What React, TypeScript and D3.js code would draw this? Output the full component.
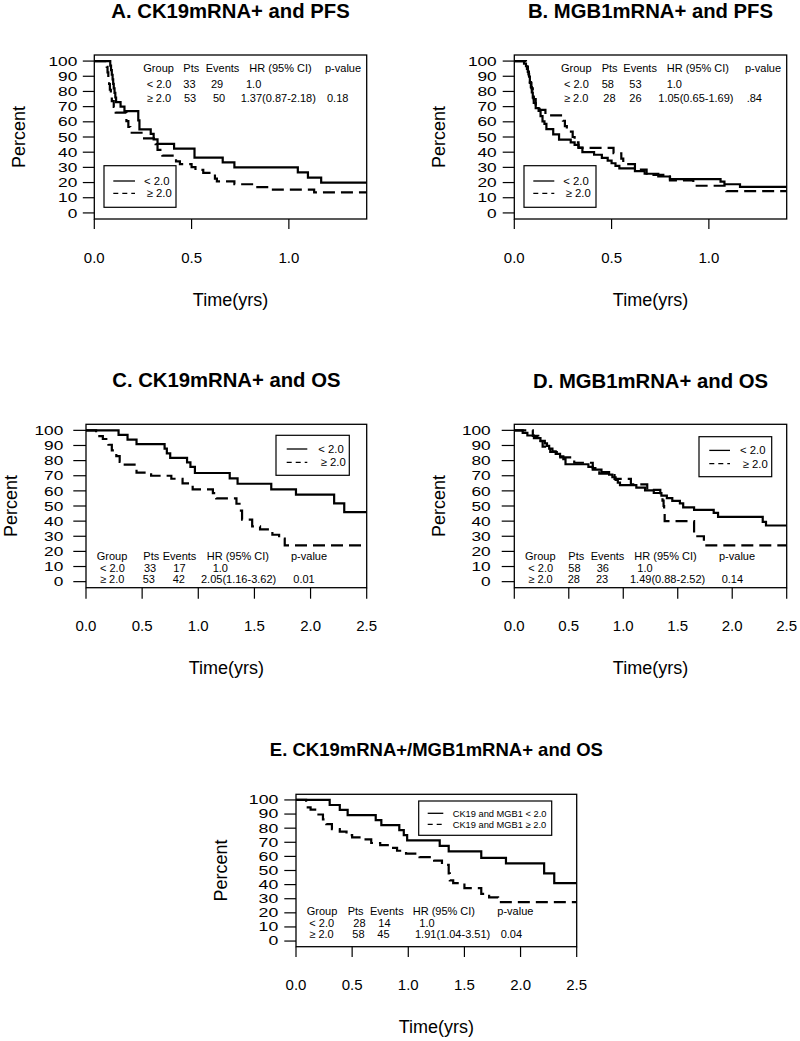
import React from "react";
import * as d3 from "d3";

type Pt = [number, number];

// ---------- tick values / labels ----------
const yTickValues = [0, 10, 20, 30, 40, 50, 60, 70, 80, 90, 100];
const pfsTimeTicks = [0, 0.5, 1.0];
const osTimeTicks = [0, 0.5, 1.0, 1.5, 2.0, 2.5];
const groupLegend = ["< 2.0", "≥ 2.0"];
const comboLegend = ["CK19 and MGB1 < 2.0", "CK19 and MGB1 ≥ 2.0"];
const statsHeader = ["Group", "Pts", "Events", "HR (95% CI)", "p-value"];

// ---------- statistics tables ----------
const ck19PfsStats = [["< 2.0", "33", "29", "1.0", ""], ["≥ 2.0", "53", "50", "1.37(0.87-2.18)", "0.18"]];
const mgbPfsStats = [["< 2.0", "58", "53", "1.0", ""], ["≥ 2.0", "28", "26", "1.05(0.65-1.69)", ".84"]];
const ck19OsStats = [["< 2.0", "33", "17", "1.0", ""], ["≥ 2.0", "53", "42", "2.05(1.16-3.62)", "0.01"]];
const mgbOsStats = [["< 2.0", "58", "36", "1.0", ""], ["≥ 2.0", "28", "23", "1.49(0.88-2.52)", "0.14"]];
const bothOsStats = [["< 2.0", "28", "14", "1.0", ""], ["≥ 2.0", "58", "45", "1.91(1.04-3.51)", "0.04"]];

// ---------- survival curves: [time (yrs), percent] ----------
const ck19PfsLow: Pt[] = [[0,100],[0.082,97],[0.086,94],[0.09,91],[0.094,88],[0.097,85],[0.1,82],[0.104,79],[0.108,76],[0.112,73],[0.135,70],[0.155,67],[0.226,61],[0.232,55],[0.29,52],[0.305,48.5],[0.325,45.5],[0.41,42.4],[0.515,36.4],[0.66,33.3],[0.72,30],[1.046,26.7],[1.098,23.3],[1.166,20],[1.4,20]];
const ck19PfsHigh: Pt[] = [[0,100],[0.064,96.2],[0.068,92.5],[0.072,88.7],[0.076,84.9],[0.08,81.1],[0.085,77.4],[0.09,73.6],[0.1,69.8],[0.11,66],[0.165,60.4],[0.175,56.6],[0.185,52.8],[0.25,49.1],[0.315,45.3],[0.325,41.5],[0.35,37.7],[0.42,34],[0.44,32.1],[0.5,30.2],[0.52,28.3],[0.56,26.4],[0.62,22.6],[0.63,20.8],[0.72,18.9],[0.82,17],[0.9,15.4],[1.13,13.5],[1.4,13.5]];

const mgbPfsLow: Pt[] = [[0,100],[0.05,98.3],[0.06,96.6],[0.065,94.8],[0.07,93.1],[0.073,91.4],[0.076,89.7],[0.08,86.2],[0.085,82.8],[0.09,79.3],[0.095,75.9],[0.1,72.4],[0.11,69],[0.125,67.2],[0.135,63.8],[0.145,60.3],[0.155,58.6],[0.165,55.2],[0.2,51.7],[0.23,48.3],[0.29,46.5],[0.31,44.8],[0.33,43.1],[0.35,40],[0.41,38.3],[0.45,36.2],[0.48,34.4],[0.5,32.7],[0.52,31],[0.54,29.3],[0.62,27.5],[0.67,25.8],[0.74,24],[0.8,22.3],[1.06,20.6],[1.08,18.9],[1.16,17.2],[1.4,17.2]];
const mgbPfsHigh: Pt[] = [[0,100],[0.06,96.4],[0.07,92.9],[0.075,89.3],[0.08,85.7],[0.088,82.1],[0.095,78.6],[0.1,75],[0.11,71.4],[0.13,67.9],[0.16,64.3],[0.25,60.7],[0.26,57.1],[0.27,53.6],[0.3,50],[0.31,46.4],[0.33,42.9],[0.51,39.3],[0.55,35.7],[0.56,32.1],[0.62,28.6],[0.68,25],[0.8,21.4],[0.92,17.9],[1.09,14.3],[1.4,14.3]];

const ck19OsLow: Pt[] = [[0,100],[0.29,97],[0.37,93.9],[0.45,90.9],[0.7,87.9],[0.72,84.8],[0.75,81.8],[0.9,78.8],[0.93,75.8],[0.97,71.8],[1.28,68.3],[1.35,64.7],[1.65,61],[1.87,57.5],[2.21,51.7],[2.3,46],[2.5,46]];
const ck19OsHigh: Pt[] = [[0,100],[0.09,96.2],[0.15,94.3],[0.2,90.5],[0.23,86.7],[0.27,83],[0.3,79.2],[0.33,77.3],[0.45,72],[0.58,70],[0.76,68],[0.86,65],[0.95,61],[1.13,58.5],[1.16,55],[1.34,51.5],[1.38,47],[1.39,41],[1.48,36.5],[1.55,34.5],[1.66,31],[1.72,28.5],[1.77,24],[2.5,24]];

const mgbOsLow: Pt[] = [[0,100],[0.077,98.3],[0.12,96.6],[0.18,94.8],[0.24,93.1],[0.28,91.4],[0.3,89.7],[0.32,87.9],[0.35,86.2],[0.38,84.5],[0.42,82.8],[0.45,81],[0.47,77.6],[0.68,75.9],[0.72,74.1],[0.8,72.4],[0.87,70.7],[0.9,69],[0.93,67.2],[0.95,65.5],[0.97,63.8],[1.12,62.1],[1.2,60.3],[1.28,58.6],[1.35,56.9],[1.4,55.2],[1.45,53.4],[1.52,51.7],[1.55,49.1],[1.65,47.4],[1.83,45.5],[1.87,42.8],[2.28,39.5],[2.31,37.1],[2.5,37.1]];
const mgbOsHigh: Pt[] = [[0,100],[0.17,96.4],[0.22,92.9],[0.26,89.3],[0.33,85.7],[0.39,82.1],[0.55,78.6],[0.72,75],[0.78,71.4],[0.92,67.9],[1.07,64.3],[1.22,60.7],[1.34,57.1],[1.36,53.6],[1.37,50],[1.375,46.4],[1.38,40],[1.65,32],[1.68,30],[1.74,24],[2.5,24]];

const bothOsLow: Pt[] = [[0,100],[0.3,96.4],[0.39,92.9],[0.46,89.3],[0.71,85.7],[0.76,82.1],[0.92,78.6],[0.96,75],[0.99,71.4],[1.28,67.5],[1.36,63.5],[1.65,59],[1.87,55],[2.21,48],[2.3,41],[2.5,41]];
const bothOsHigh: Pt[] = [[0,100],[0.09,94.8],[0.13,93.1],[0.2,89.7],[0.24,86.2],[0.27,82.8],[0.32,79.3],[0.39,77.6],[0.45,75],[0.5,73.5],[0.6,72],[0.67,69.5],[0.75,68],[0.83,66],[0.9,64],[0.98,62],[1.1,59.5],[1.23,57],[1.3,54],[1.36,48],[1.37,43],[1.4,41],[1.5,37.5],[1.65,33.5],[1.72,31],[1.8,27.6],[2.5,27.6]];

// ---------- layout ----------
const FONT = "'Liberation Sans', Arial, Helvetica, sans-serif";

interface PanelCfg {
  title: string;
  titleSize: number;
  titleY: number;
  box: { l: number; r: number; t: number; b: number };
  xMax: number;
  xTicks: number[];
  low: Pt[];
  high: Pt[];
  stats: string[][];
  statRowsY: number[];
  statCols: number[][];
  yLabGap: number;
  yTickLen: number;
  yTickFont: number;
  yTickStretch: number;
  xTickLen: number;
  percentX: number;
  legend: { x: number; y: number; w: number; h: number; lx: [number, number]; ly: [number, number]; tx: [number, number]; size: number; labels: string[] };
}

const panels: PanelCfg[] = [
  {
    title: "A. CK19mRNA+ and PFS", titleSize: 20.3, titleY: 17.5,
    box: { l: 94.3, r: 366.7, t: 55, b: 219 }, xMax: 1.4, xTicks: pfsTimeTicks,
    low: ck19PfsLow, high: ck19PfsHigh, stats: ck19PfsStats,
    statRowsY: [71.7, 87.7, 102.3],
    statCols: [[49, 89, 111.4, 155, 230.7], [52.4, 89, 116.7, 151.7, 0], [52.4, 89.7, 118.7, 146.4, 232.7]],
    yLabGap: 17, yTickLen: 11.5, yTickFont: 13, yTickStretch: 1.33, xTickLen: 10, percentX: 25,
    legend: { x: 104, y: 165.7, w: 72, h: 41.6, lx: [113.3, 135], ly: [181, 193.3], tx: [144, 146.7], size: 11.3, labels: groupLegend },
  },
  {
    title: "B. MGB1mRNA+ and PFS", titleSize: 20.3, titleY: 17.5,
    box: { l: 514.3, r: 786.7, t: 55, b: 219 }, xMax: 1.4, xTicks: pfsTimeTicks,
    low: mgbPfsLow, high: mgbPfsHigh, stats: mgbPfsStats,
    statRowsY: [71.7, 87.7, 102.3],
    statCols: [[46.7, 87.4, 109, 152.4, 230.7], [49.7, 87.4, 115, 152.4, 0], [49.7, 89, 115, 144, 232.4]],
    yLabGap: 17.6, yTickLen: 11.6, yTickFont: 13, yTickStretch: 1.33, xTickLen: 10, percentX: 445,
    legend: { x: 524, y: 165.7, w: 72, h: 41.6, lx: [533.3, 554.3], ly: [181, 193.3], tx: [563.3, 565.7], size: 11.3, labels: groupLegend },
  },
  {
    title: "C. CK19mRNA+ and OS", titleSize: 20.3, titleY: 387,
    box: { l: 86, r: 366.7, t: 424.3, b: 587.7 }, xMax: 2.5, xTicks: osTimeTicks,
    low: ck19OsLow, high: ck19OsHigh, stats: ck19OsStats,
    statRowsY: [560, 571.5, 582.5],
    statCols: [[10.7, 57.3, 76.7, 120.7, 205], [14, 58, 87.3, 126.7, 0], [14, 56.7, 86.7, 115, 207.3]],
    yLabGap: 22.7, yTickLen: 12.7, yTickFont: 13, yTickStretch: 1.33, xTickLen: 11, percentX: 17.3,
    legend: { x: 276, y: 435.3, w: 73.3, h: 40, lx: [286.7, 307.3], ly: [449, 462.3], tx: [318.3, 320.7], size: 11.3, labels: groupLegend },
  },
  {
    title: "D. MGB1mRNA+ and OS", titleSize: 20.3, titleY: 388,
    box: { l: 514.3, r: 786.7, t: 424.3, b: 587.7 }, xMax: 2.5, xTicks: osTimeTicks,
    low: mgbOsLow, high: mgbOsHigh, stats: mgbOsStats,
    statRowsY: [560, 571.5, 582.5],
    statCols: [[10.7, 54, 76.4, 120, 204.7], [14, 54, 82.4, 123, 0], [14, 53.4, 81.7, 115.7, 207.4]],
    yLabGap: 23.6, yTickLen: 12.6, yTickFont: 13, yTickStretch: 1.33, xTickLen: 11, percentX: 445,
    legend: { x: 699, y: 436.7, w: 72.7, h: 40, lx: [709.3, 730], ly: [450.4, 463.7], tx: [740, 742.7], size: 11.3, labels: groupLegend },
  },
  {
    title: "E. CK19mRNA+/MGB1mRNA+ and OS", titleSize: 18.5, titleY: 756,
    box: { l: 296, r: 576.7, t: 794.3, b: 946.7 }, xMax: 2.5, xTicks: osTimeTicks,
    low: bothOsLow, high: bothOsHigh, stats: bothOsStats,
    statRowsY: [915, 927.3, 938.3],
    statCols: [[10.7, 51.7, 74, 116.7, 201.3], [13.3, 57.3, 82.3, 123.3, 0], [13.3, 56.3, 81.3, 119, 204.7]],
    yLabGap: 17.7, yTickLen: 11.7, yTickFont: 12.2, yTickStretch: 1.45, xTickLen: 10.3, percentX: 226.7,
    legend: { x: 418.7, y: 801, w: 133, h: 34.3, lx: [427.7, 443.3], ly: [813.3, 824.3], tx: [452.7, 452.7], size: 9.3, labels: comboLegend },
  },
];

const CURVE_DASH = "12,6";
const X_TICK_FONT = 15;

function Panel({ cfg }: { cfg: PanelCfg }) {
  const { box } = cfg;
  const x = d3.scaleLinear().domain([0, cfg.xMax]).range([box.l, box.r]);
  const y = d3.scaleLinear().domain([-4, 104]).range([box.b, box.t]);
  const line = d3.line<Pt>().x((d) => x(d[0])).y((d) => y(d[1])).curve(d3.curveStepAfter);
  const cx = (box.l + box.r) / 2;
  const cy = (box.t + box.b) / 2;
  const rows = [statsHeader, ...cfg.stats];
  const lg = cfg.legend;
  return (
    <g fontFamily={FONT} fill="#000">
      <text x={cx} y={cfg.titleY} textAnchor="middle" fontWeight="bold" fontSize={cfg.titleSize}>{cfg.title}</text>
      {/* curves */}
      <path d={line(cfg.low) || ""} fill="none" stroke="#000" strokeWidth={2.2} />
      <path d={line(cfg.high) || ""} fill="none" stroke="#000" strokeWidth={2.2} strokeDasharray={CURVE_DASH} />
      {/* box */}
      <rect x={box.l} y={box.t} width={box.r - box.l} height={box.b - box.t} fill="none" stroke="#000" strokeWidth={1.3} />
      {/* y axis */}
      {yTickValues.map((v) => (
        <g key={"y" + v}>
          <line x1={box.l - cfg.yTickLen} x2={box.l} y1={y(v)} y2={y(v)} stroke="#000" strokeWidth={1.2} />
          <text
            transform={`translate(${box.l - cfg.yLabGap},${y(v) + cfg.yTickFont * 0.36}) scale(${cfg.yTickStretch},1)`}
            textAnchor="end"
            fontSize={cfg.yTickFont}
          >
            {v}
          </text>
        </g>
      ))}
      {/* x axis */}
      {cfg.xTicks.map((v) => (
        <g key={"x" + v}>
          <line x1={x(v)} x2={x(v)} y1={box.b} y2={box.b + cfg.xTickLen} stroke="#000" strokeWidth={1.2} />
          <text x={x(v)} y={box.b + 43.5} textAnchor="middle" fontSize={X_TICK_FONT}>{v.toFixed(1)}</text>
        </g>
      ))}
      <text x={cx} y={box.b + 86.5} textAnchor="middle" fontSize={18}>Time(yrs)</text>
      <text transform={`translate(${cfg.percentX},${cy}) rotate(-90)`} textAnchor="middle" fontSize={18}>Percent</text>
      {/* stats table */}
      {rows.map((row, ri) =>
        row.map((cell, ci) =>
          cell ? (
            <text key={`s${ri}-${ci}`} x={box.l + cfg.statCols[ri][ci]} y={cfg.statRowsY[ri]} fontSize={11}>{cell}</text>
          ) : null
        )
      )}
      {/* legend */}
      <rect x={lg.x} y={lg.y} width={lg.w} height={lg.h} fill="#fff" stroke="#000" strokeWidth={1.2} />
      <line x1={lg.lx[0]} x2={lg.lx[1]} y1={lg.ly[0]} y2={lg.ly[0]} stroke="#000" strokeWidth={1.3} />
      <line x1={lg.lx[0]} x2={lg.lx[1]} y1={lg.ly[1]} y2={lg.ly[1]} stroke="#000" strokeWidth={1.3} strokeDasharray="5,4" />
      <text x={lg.tx[0]} y={lg.ly[0] + lg.size * 0.36} fontSize={lg.size}>{lg.labels[0]}</text>
      <text x={lg.tx[1]} y={lg.ly[1] + lg.size * 0.36} fontSize={lg.size}>{lg.labels[1]}</text>
    </g>
  );
}

export default function App() {
  return (
    <svg width={800} height={1041} viewBox="0 0 800 1041" style={{ position: "absolute", left: 0, top: 0, background: "#fff" }}>
      <rect x={0} y={0} width={800} height={1041} fill="#fff" />
      {panels.map((p) => (
        <Panel key={p.title} cfg={p} />
      ))}
    </svg>
  );
}
